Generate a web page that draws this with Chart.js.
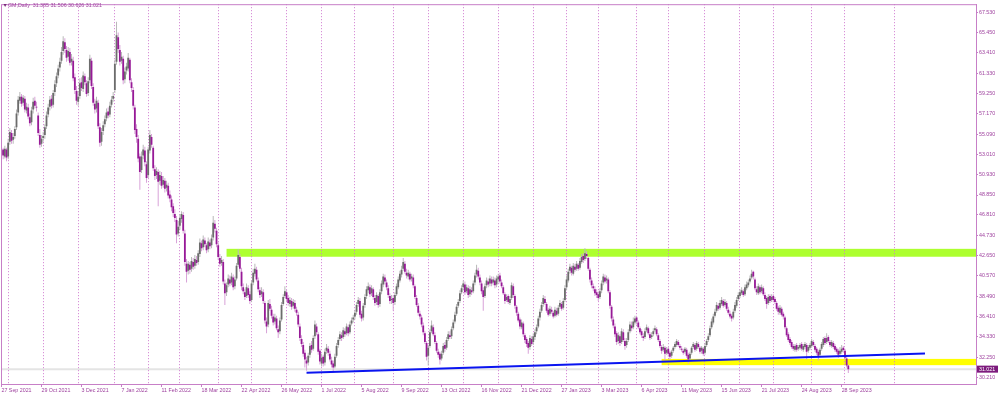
<!DOCTYPE html>
<html>
<head>
<meta charset="utf-8">
<script src="https://cdn.jsdelivr.net/npm/chart.js@4"></script>
<style>
  html, body { margin: 0; padding: 0; background: #fff; }
  canvas { display: block; background: #fff; }
</style>
</head>
<body>
<canvas id="gmChart" width="1000" height="395"></canvas>
<script>
// GM daily, 27 Sep 2021 .. early Oct 2023 (one entry per trading day)
const opens = [
  53.0, 53.5, 52.8, 53.5,
  52.8, 54.3, 55.2, 54.5, 54.9, 55.8, 57.3, 58.5, 58.9, 58.3, 58.7, 57.5, 57.8, 56.8, 56.3, 57.6, 58.5, 57.9, 57.0, 55.0, 54.1,
  54.7, 55.0, 55.9, 57.1, 57.9, 58.7, 58.1, 59.4, 60.3, 61.1, 61.9, 62.6, 63.6, 64.5, 63.7, 63.0, 63.5, 62.5, 62.6, 60.9, 59.5,
  58.4, 59.0, 60.4, 59.7, 61.0, 60.3, 59.3, 60.6, 62.6, 59.9, 58.2, 57.7, 58.3, 55.8, 54.3, 55.4, 56.1, 56.7, 57.4, 57.1, 58.1, 58.7,
  59.6, 62.5, 65.0, 63.7, 62.6, 62.8, 60.7, 61.6, 61.8, 62.7, 60.4, 59.6, 57.8, 55.6, 54.6, 52.8, 51.4, 52.9, 53.4, 52.0,
  50.9, 53.4, 54.8, 53.7, 51.5, 50.9, 51.2, 50.3, 50.8, 49.9, 50.3, 49.6, 49.8, 48.9, 48.4, 47.7, 46.9, 46.3, 44.9,
  45.7, 46.4, 46.8, 44.9, 41.8, 41.1, 41.7, 41.3, 42.0, 41.6, 42.2, 42.0, 42.8, 43.9, 43.5, 44.2, 43.7, 43.3, 44.0, 43.7, 44.5, 45.9, 45.2,
  43.7, 42.4, 41.9, 42.0, 39.8, 38.9, 39.7, 40.2, 39.9, 40.4, 39.5, 40.3, 41.7, 42.5, 41.0, 39.4, 38.9, 38.5, 39.3, 38.7,
  38.1, 39.9, 40.8, 41.2, 40.1, 39.1, 38.7, 38.9, 37.8, 35.9, 35.6, 37.7, 37.1, 36.4, 35.9, 36.2, 35.1, 34.9, 36.1, 37.7, 38.5,
  38.9, 38.3, 37.7, 38.0, 37.5, 37.8, 37.1, 36.6, 35.4, 34.1, 33.5, 32.7, 31.9, 31.7, 32.5, 33.5, 33.1, 34.4, 35.4, 34.6, 32.9,
  31.6, 32.3, 31.7, 32.9, 33.1, 32.6, 31.9, 31.6, 31.3, 32.4, 33.5, 34.1, 34.5, 34.3, 34.9, 34.7, 35.3, 34.8, 35.7, 36.1,
  36.4, 36.9, 37.7, 38.0, 36.7, 36.3, 37.6, 38.5, 39.1, 39.4, 38.8, 39.2, 38.3, 37.9, 38.5, 37.7, 39.0, 39.7, 40.4, 39.9, 39.3, 38.5, 38.1,
  38.3, 37.9, 38.7, 39.4, 40.1, 40.7, 41.3, 41.8, 40.9, 40.5, 40.8, 40.3, 40.4, 39.5, 38.3, 37.5, 36.7, 36.3, 35.5, 34.7, 33.7,
  32.4, 33.4, 34.9, 35.3, 34.5, 33.7, 32.8, 32.6, 32.1, 32.7, 33.5, 33.2, 34.1, 34.5, 34.4, 35.2, 35.9, 36.7, 37.5, 38.0, 38.9,
  39.4, 39.7, 39.0, 39.3, 38.7, 39.1, 39.0, 39.9, 40.7, 41.1, 40.4, 39.8, 39.1, 38.5, 39.6, 40.0, 39.8, 40.2, 39.9, 40.1, 39.7,
  40.2, 40.6, 39.9, 39.4, 38.7, 38.1, 38.5, 37.8, 38.3, 39.5, 38.5, 37.4, 36.7, 36.1, 35.3, 35.7, 34.5, 34.1, 33.7, 33.3, 34.1,
  33.8, 34.3, 34.9, 35.4, 36.3, 37.0, 37.7, 38.2, 37.7, 37.1, 36.7, 37.1, 36.8, 36.5, 37.0, 36.7, 37.4, 37.7, 37.3, 38.1,
  39.4, 40.1, 41.1, 41.4, 40.8, 41.5, 41.3, 41.7, 41.4, 42.0, 42.6, 42.3, 42.8, 42.4, 41.2, 40.1, 39.5, 39.2, 38.9,
  38.7, 38.4, 39.1, 39.9, 40.4, 40.1, 40.2, 38.9, 37.4, 36.1, 35.4, 34.7, 33.9, 34.4, 33.8, 34.8, 33.9, 33.5, 34.0, 34.9, 35.5, 35.3, 35.8,
  36.3, 35.8, 35.2, 34.9, 34.4, 34.3, 35.0, 35.2, 34.6, 34.3, 34.6, 35.0, 35.1, 34.5, 33.9, 33.3, 33.0, 33.2, 32.7,
  33.1, 32.7, 32.4, 32.9, 33.3, 33.5, 33.8, 33.4, 33.1, 32.9, 32.8, 33.0, 32.5, 32.1, 32.7, 33.3, 33.5, 33.1, 33.6, 33.2, 32.9, 33.1,
  32.7, 33.5, 34.0, 34.5, 35.3, 35.8, 36.5, 37.0, 37.5, 37.3, 37.7, 38.0, 37.6, 37.8, 37.1, 36.7, 36.5, 36.3, 37.0, 37.5, 38.2,
  38.5, 38.8, 39.0, 38.7, 39.3, 39.6, 40.0, 40.4, 41.0, 40.2, 39.2, 38.8, 39.4, 39.0, 39.3, 38.6, 38.3, 37.8, 38.5, 38.1,
  38.5, 38.2, 37.8, 37.3, 36.8, 37.2, 36.7, 36.3, 35.2, 34.6, 34.1, 33.8, 33.4, 33.0, 33.5, 33.1, 33.2, 33.6, 33.0, 33.3, 33.5, 32.9, 33.2,
  33.4, 33.8, 33.4, 33.1, 32.8, 32.5, 33.1, 33.5, 34.2, 33.8, 34.3, 33.8, 33.4, 33.7, 33.4, 33.1, 32.9, 32.6, 32.8, 33.2,
  32.9, 32.1, 31.385
];
const highs = [
  53.8, 53.7, 53.9, 53.7,
  54.6, 55.7, 55.5, 55.2, 55.9, 57.6, 59.0, 59.4, 59.2, 59.1, 59.0, 58.3, 58.2, 57.2, 57.9, 58.8, 58.9, 58.4, 57.3, 55.6, 55.0,
  55.3, 56.1, 57.4, 58.2, 59.0, 59.1, 59.6, 60.6, 61.4, 62.2, 62.9, 64.0, 65.1, 64.9, 64.1, 64.0, 63.9, 63.3, 63.0, 61.3, 60.0,
  59.5, 60.8, 60.9, 61.5, 61.3, 60.6, 60.9, 63.2, 62.9, 60.3, 58.7, 58.9, 58.6, 56.2, 55.7, 56.4, 57.0, 57.7, 57.8, 58.4, 59.0, 59.4,
  62.7, 66.6, 65.5, 64.2, 63.5, 63.1, 61.9, 62.4, 63.4, 62.9, 60.8, 59.9, 58.1, 56.1, 55.0, 53.1, 53.3, 54.0, 53.8, 52.3,
  53.8, 55.5, 55.1, 53.9, 51.9, 51.7, 51.5, 51.3, 51.2, 50.8, 50.6, 50.3, 50.1, 49.3, 48.8, 48.0, 47.4, 46.7, 46.2,
  46.9, 47.2, 47.1, 45.3, 42.3, 42.1, 42.0, 42.5, 42.4, 42.7, 42.6, 43.2, 44.4, 44.2, 44.7, 44.5, 43.9, 44.5, 44.3, 44.8, 46.7, 46.3, 45.5,
  44.0, 42.8, 42.6, 42.3, 40.2, 39.9, 40.7, 40.6, 40.9, 40.7, 40.5, 41.9, 43.3, 42.8, 41.4, 39.8, 39.2, 39.8, 39.6, 39.0,
  40.1, 41.3, 41.8, 41.5, 40.4, 39.4, 39.4, 39.2, 38.0, 36.3, 38.1, 38.2, 37.5, 36.7, 36.7, 36.5, 35.5, 36.3, 37.9, 38.7, 39.5,
  39.2, 38.6, 38.4, 38.3, 38.2, 38.1, 37.4, 36.9, 35.7, 34.5, 33.8, 33.0, 32.3, 32.7, 33.7, 33.9, 34.5, 36.0, 35.7, 34.8, 33.1,
  32.6, 32.5, 33.1, 33.6, 33.4, 32.9, 32.3, 31.9, 32.6, 33.7, 34.3, 34.9, 34.8, 35.3, 35.2, 35.7, 35.6, 35.9, 36.3, 36.6,
  37.1, 37.9, 38.4, 38.3, 37.0, 37.8, 38.7, 39.5, 39.9, 39.7, 39.6, 39.4, 38.6, 38.9, 38.7, 39.2, 40.1, 40.8, 40.7, 40.2, 39.6, 38.8, 38.6,
  38.6, 38.9, 39.8, 40.5, 41.1, 41.6, 42.4, 42.1, 41.3, 41.2, 41.0, 40.8, 40.7, 39.7, 38.6, 37.8, 37.0, 36.6, 35.8, 34.9, 33.9,
  33.5, 35.1, 36.0, 35.6, 34.8, 33.9, 33.1, 32.8, 32.9, 33.7, 33.8, 34.3, 34.9, 34.9, 35.4, 36.1, 36.9, 37.7, 38.2, 39.1, 39.6,
  40.1, 40.0, 39.7, 39.6, 39.5, 39.4, 40.1, 40.9, 41.7, 41.4, 40.7, 40.1, 39.4, 39.8, 40.4, 40.3, 40.6, 40.5, 40.5, 40.4, 40.6,
  40.8, 40.9, 40.2, 39.6, 38.9, 38.7, 38.7, 38.5, 39.9, 39.8, 38.7, 37.6, 36.9, 36.3, 36.1, 35.9, 34.7, 34.3, 33.9, 34.5, 34.4,
  34.7, 35.1, 35.6, 36.5, 37.2, 37.9, 38.6, 38.5, 37.9, 37.3, 37.5, 37.4, 37.0, 37.4, 37.3, 37.6, 38.1, 37.9, 38.3, 39.6,
  40.6, 41.3, 41.8, 41.6, 41.9, 41.8, 42.1, 41.9, 42.4, 42.8, 42.9, 43.4, 43.1, 42.5, 41.4, 40.4, 39.8, 39.5, 39.2,
  39.0, 39.3, 40.1, 40.8, 40.7, 40.6, 40.4, 39.1, 37.6, 36.4, 35.7, 34.9, 34.8, 34.6, 35.2, 35.1, 34.2, 34.2, 35.1, 35.9, 35.9, 36.3, 36.5,
  36.5, 36.0, 35.4, 35.1, 34.7, 35.2, 35.6, 35.4, 34.8, 34.8, 35.2, 35.5, 35.3, 34.7, 34.1, 33.5, 33.6, 33.4, 33.3,
  33.3, 32.9, 33.0, 33.4, 33.8, 34.1, 34.0, 33.6, 33.4, 33.1, 33.3, 33.2, 32.7, 32.8, 33.4, 33.8, 33.7, 33.9, 33.8, 33.4, 33.4, 33.3,
  33.7, 34.1, 34.7, 35.5, 36.2, 36.7, 37.2, 37.9, 37.8, 38.1, 38.4, 38.2, 38.2, 38.0, 37.4, 37.0, 36.7, 37.2, 37.9, 38.4, 38.9,
  39.2, 39.4, 39.2, 39.7, 40.0, 40.2, 40.6, 41.2, 41.1, 40.4, 39.5, 39.8, 39.6, 39.7, 39.5, 38.9, 38.5, 38.7, 38.7, 38.7,
  38.7, 38.4, 38.0, 37.5, 37.6, 37.4, 36.9, 36.5, 35.4, 34.8, 34.3, 34.0, 33.6, 33.6, 33.7, 33.5, 33.7, 33.8, 33.6, 33.8, 33.7, 33.5, 33.7,
  34.1, 34.0, 33.6, 33.3, 33.0, 33.2, 33.8, 34.3, 34.4, 34.7, 34.5, 34.0, 34.0, 33.9, 33.6, 33.3, 33.1, 33.3, 33.5, 33.4,
  33.1, 32.3, 31.506
];
const lows = [
  52.6, 52.5, 52.6, 52.3,
  52.5, 54.0, 54.1, 54.1, 54.6, 55.5, 57.0, 58.2, 57.9, 58.0, 57.3, 57.2, 56.6, 55.9, 56.0, 57.2, 57.7, 57.4, 54.9, 53.7, 53.8,
  54.3, 54.6, 55.6, 56.8, 57.5, 57.7, 57.8, 59.0, 59.9, 60.8, 61.5, 62.3, 63.2, 63.4, 62.5, 62.6, 62.1, 62.1, 60.5, 59.2, 58.1,
  58.0, 58.7, 59.5, 59.4, 60.1, 58.9, 59.0, 60.3, 59.7, 58.0, 57.2, 57.3, 55.6, 53.8, 53.9, 55.0, 55.8, 56.4, 56.7, 56.8, 57.8, 58.4,
  59.3, 62.2, 63.4, 62.1, 62.3, 60.2, 60.3, 61.2, 61.5, 60.3, 59.4, 57.6, 55.1, 54.2, 52.2, 49.4, 51.1, 52.5, 51.8, 50.1,
  50.6, 53.1, 53.7, 51.3, 50.4, 50.5, 47.7, 49.9, 49.5, 49.6, 49.1, 49.2, 48.5, 48.1, 47.2, 46.6, 46.1, 43.9, 44.6,
  45.3, 46.0, 44.9, 41.6, 39.9, 40.7, 40.8, 41.0, 41.2, 41.3, 41.6, 41.7, 42.5, 43.1, 43.2, 43.5, 42.9, 43.0, 43.3, 43.4, 44.2, 45.0, 43.5,
  42.2, 41.5, 41.6, 39.7, 37.6, 38.5, 39.4, 39.5, 39.6, 39.1, 39.2, 40.1, 41.5, 41.0, 39.1, 38.7, 38.1, 38.3, 38.3, 37.7,
  37.9, 39.6, 40.5, 40.0, 38.9, 38.3, 38.4, 37.7, 35.7, 34.7, 35.3, 37.0, 36.2, 35.5, 35.6, 35.0, 34.2, 34.6, 35.9, 37.5, 38.3,
  37.9, 37.5, 37.4, 37.1, 37.2, 36.9, 36.5, 35.3, 33.9, 33.3, 32.3, 31.2, 30.85, 31.4, 32.2, 32.7, 32.9, 34.1, 34.5, 32.5, 31.5,
  31.3, 31.3, 31.4, 32.6, 32.4, 31.8, 31.2, 30.7, 31.1, 32.2, 33.2, 33.9, 33.9, 34.1, 34.3, 34.5, 34.4, 34.6, 35.5, 35.8,
  36.1, 36.6, 37.4, 36.3, 35.9, 36.0, 37.3, 38.2, 38.8, 38.4, 38.5, 38.1, 37.5, 37.6, 37.3, 37.4, 38.7, 39.4, 39.7, 39.1, 38.3, 37.7, 37.7,
  37.0, 37.6, 38.5, 39.2, 39.9, 40.4, 41.1, 40.8, 40.3, 40.2, 40.0, 40.0, 39.3, 38.2, 37.4, 36.5, 36.1, 35.3, 34.5, 33.6, 31.9,
  31.4, 33.2, 34.7, 34.4, 33.6, 32.7, 32.2, 31.5, 31.9, 32.5, 32.8, 33.0, 33.9, 34.1, 34.1, 35.0, 35.7, 36.5, 37.3, 37.8, 38.7,
  39.1, 38.6, 38.8, 38.3, 38.4, 38.6, 38.8, 39.6, 40.4, 40.2, 39.6, 38.7, 37.0, 38.3, 39.3, 39.4, 39.5, 39.5, 39.6, 39.3, 39.4,
  39.9, 39.8, 39.3, 38.6, 37.7, 37.9, 37.7, 37.6, 38.1, 38.3, 37.2, 36.5, 35.8, 35.1, 35.1, 34.3, 33.7, 33.3, 32.6, 33.0, 33.4,
  33.5, 34.0, 34.6, 35.2, 36.0, 36.8, 37.4, 37.6, 36.8, 36.4, 36.5, 36.7, 36.2, 36.3, 36.4, 36.5, 37.2, 37.0, 37.1, 37.9,
  39.1, 39.9, 40.8, 40.6, 40.6, 41.0, 41.1, 41.1, 41.2, 41.8, 41.9, 42.1, 42.3, 41.1, 39.9, 39.3, 39.0, 38.5, 38.3,
  38.0, 38.2, 38.8, 39.6, 39.8, 39.8, 38.8, 37.2, 35.9, 35.2, 34.3, 33.5, 33.6, 33.4, 33.6, 33.8, 33.0, 33.2, 33.8, 34.7, 34.9, 35.1, 35.6,
  35.6, 35.1, 34.6, 34.2, 33.9, 34.1, 34.8, 34.5, 34.0, 34.1, 34.4, 34.8, 34.4, 33.8, 33.2, 32.6, 32.8, 31.9, 32.5,
  32.3, 32.0, 32.2, 32.7, 33.1, 33.3, 33.3, 33.0, 32.8, 32.5, 32.6, 32.2, 31.6, 31.9, 32.5, 33.1, 32.8, 32.9, 33.1, 32.6, 32.6, 32.4,
  32.5, 33.3, 33.8, 34.3, 35.1, 35.6, 36.3, 36.8, 37.0, 37.1, 37.5, 37.3, 37.4, 37.0, 36.6, 36.2, 35.9, 36.1, 36.8, 37.3, 38.0,
  38.3, 38.6, 38.4, 38.5, 39.1, 39.4, 39.8, 40.2, 40.2, 39.1, 38.6, 38.6, 38.7, 38.8, 38.5, 38.0, 37.2, 37.6, 37.8, 37.9,
  37.9, 37.7, 37.0, 36.6, 36.6, 36.4, 36.1, 35.1, 34.3, 33.8, 33.5, 33.1, 32.9, 32.8, 32.8, 32.9, 33.0, 32.9, 32.8, 33.1, 32.0, 32.7, 33.0,
  33.2, 33.3, 32.8, 32.5, 31.9, 32.3, 32.9, 33.3, 33.5, 33.6, 33.7, 33.3, 33.2, 33.1, 32.8, 32.6, 32.2, 32.4, 32.6, 32.7,
  32.0, 31.2, 30.626
];
const closes = [
  53.4, 52.9, 53.6, 52.7,
  54.2, 55.3, 54.4, 54.8, 55.6, 57.2, 58.6, 58.9, 58.2, 58.8, 57.6, 57.9, 56.9, 56.2, 57.5, 58.4, 58.0, 57.8, 55.2, 54.0, 54.6,
  54.9, 55.8, 57.0, 57.8, 58.6, 58.0, 59.3, 60.2, 61.0, 61.8, 62.5, 63.5, 64.6, 63.8, 62.9, 63.6, 62.4, 62.8, 60.8, 59.6, 58.5,
  58.9, 60.3, 59.8, 61.1, 60.4, 59.2, 60.5, 62.8, 60.0, 58.3, 57.6, 58.5, 55.9, 54.2, 55.3, 56.0, 56.6, 57.3, 57.0, 58.0, 58.6, 59.0,
  62.3, 65.2, 63.8, 62.5, 63.0, 60.6, 61.5, 62.0, 62.9, 60.6, 59.8, 58.0, 55.5, 54.8, 52.6, 51.2, 52.8, 53.5, 52.2, 50.6,
  53.5, 55.0, 54.0, 51.6, 50.8, 51.3, 50.2, 50.9, 49.8, 50.4, 49.5, 49.9, 48.8, 48.5, 47.6, 47.0, 46.5, 44.8, 45.6,
  46.5, 46.9, 45.2, 42.0, 41.0, 41.8, 41.2, 42.1, 41.5, 42.3, 41.9, 42.9, 44.0, 43.4, 44.3, 43.8, 43.2, 44.1, 43.6, 44.4, 46.0, 45.4, 43.8,
  42.5, 41.8, 42.2, 40.0, 38.8, 39.6, 40.3, 39.8, 40.5, 39.4, 40.2, 41.6, 42.7, 41.3, 39.5, 39.0, 38.4, 39.4, 38.6, 38.0,
  39.8, 40.9, 41.3, 40.2, 39.2, 38.6, 39.0, 38.0, 36.0, 35.4, 37.8, 37.2, 36.5, 35.8, 36.3, 35.2, 34.8, 36.0, 37.6, 38.4, 39.0,
  38.2, 37.8, 38.1, 37.4, 37.9, 37.2, 36.8, 35.6, 34.2, 33.6, 32.6, 32.0, 31.6, 32.4, 33.4, 33.0, 34.2, 35.6, 34.8, 32.8, 31.8,
  32.2, 31.6, 32.8, 33.2, 32.7, 32.0, 31.5, 31.2, 32.3, 33.4, 34.0, 34.6, 34.2, 35.0, 34.6, 35.4, 34.7, 35.6, 36.0, 36.3,
  36.8, 37.6, 38.1, 36.6, 36.2, 37.5, 38.4, 39.2, 39.5, 38.7, 39.3, 38.4, 37.8, 38.6, 37.6, 38.9, 39.8, 40.5, 40.0, 39.4, 38.6, 38.0, 38.2,
  37.8, 38.6, 39.5, 40.2, 40.8, 41.2, 42.0, 41.0, 40.6, 40.9, 40.2, 40.5, 39.6, 38.4, 37.6, 36.8, 36.4, 35.6, 34.8, 33.8, 32.3,
  33.2, 34.8, 35.5, 34.6, 33.8, 32.9, 32.5, 32.0, 32.6, 33.4, 33.1, 34.0, 34.6, 34.3, 35.1, 35.8, 36.6, 37.4, 37.9, 38.8, 39.3,
  39.8, 38.9, 39.4, 38.6, 39.2, 38.9, 39.8, 40.6, 41.2, 40.5, 39.9, 39.0, 38.4, 39.5, 40.1, 39.7, 40.3, 39.8, 40.2, 39.6, 40.3,
  40.5, 40.0, 39.5, 38.8, 38.0, 38.4, 37.9, 38.2, 39.6, 38.6, 37.5, 36.8, 36.0, 35.4, 35.8, 34.6, 34.0, 33.6, 33.2, 34.2, 33.6,
  34.4, 34.8, 35.3, 36.2, 36.9, 37.6, 38.3, 37.8, 37.0, 36.6, 37.2, 36.9, 36.4, 37.1, 36.6, 37.3, 37.8, 37.2, 38.0, 39.3,
  40.2, 41.0, 41.5, 40.9, 41.6, 41.2, 41.8, 41.3, 42.1, 42.5, 42.2, 42.9, 42.6, 41.3, 40.2, 39.6, 39.3, 38.8, 38.6,
  38.3, 39.0, 39.8, 40.5, 40.0, 40.3, 39.0, 37.5, 36.2, 35.5, 34.6, 33.8, 34.5, 33.7, 34.9, 34.0, 33.4, 33.9, 34.8, 35.6, 35.2, 35.9, 36.2,
  35.9, 35.3, 34.8, 34.5, 34.2, 34.9, 35.3, 34.7, 34.2, 34.5, 34.9, 35.2, 34.6, 34.0, 33.4, 32.9, 33.3, 32.6, 33.0,
  32.6, 32.3, 32.8, 33.2, 33.6, 33.9, 33.5, 33.2, 33.0, 32.7, 33.1, 32.4, 32.0, 32.6, 33.2, 33.6, 33.0, 33.7, 33.3, 32.8, 33.2, 32.6,
  33.4, 33.9, 34.4, 35.2, 35.9, 36.4, 36.9, 37.6, 37.2, 37.8, 38.1, 37.5, 37.9, 37.2, 36.8, 36.4, 36.2, 36.9, 37.6, 38.1, 38.6,
  38.9, 39.1, 38.6, 39.4, 39.7, 39.9, 40.3, 40.8, 40.5, 39.3, 38.9, 39.5, 38.9, 39.4, 38.7, 38.2, 37.7, 38.4, 38.0, 38.4,
  38.1, 37.9, 37.2, 36.9, 37.3, 36.6, 36.4, 35.3, 34.5, 34.0, 33.7, 33.3, 33.1, 33.4, 33.0, 33.3, 33.5, 33.1, 33.4, 33.6, 32.8, 33.3, 33.5,
  33.9, 33.5, 33.0, 32.7, 32.4, 33.0, 33.6, 34.1, 33.7, 34.2, 33.9, 33.5, 33.8, 33.3, 33.0, 32.8, 32.5, 32.9, 33.1, 32.97,
  32.2, 31.4, 31.021
];

// time axis labels, one every 24 bars starting at bar 0
const xTickLabels = ['27 Sep 2021', '29 Oct 2021', '3 Dec 2021', '7 Jan 2022', '11 Feb 2022', '18 Mar 2022',
  '22 Apr 2022', '26 May 2022', '1 Jul 2022', '5 Aug 2022', '9 Sep 2022', '13 Oct 2022', '16 Nov 2022',
  '21 Dec 2022', '27 Jan 2023', '3 Mar 2023', '6 Apr 2023', '11 May 2023', '15 Jun 2023', '21 Jul 2023',
  '24 Aug 2023', '28 Sep 2023'];
const labelStep = 24;
// bar index of the first trading day of each month (period separators)
const monthStarts = [4, 25, 46, 68, 88, 107, 130, 150, 171, 192, 212, 235, 256, 277, 298, 319, 339, 358, 381, 400, 422, 443, 463, 486, 506, 536];
const yTickValues = [67.53, 65.45, 63.41, 61.33, 59.25, 57.17, 55.09, 53.01, 50.93, 48.85, 46.81, 44.73,
  42.65, 40.57, 38.49, 36.41, 34.33, 32.25, 30.21];

// drawn objects
const trendLine = [{x: 183, y: 30.65}, {x: 554, y: 32.62}];
const greenZone = {from: 135, low: 42.53, high: 43.34};
const yellowZone = {from: 396, low: 31.43, high: 32.07};
const headerText = 'GM,Daily  31.385 31.506 30.626 31.021';

const UP_BODY = '#6c6c6c', UP_WICK = '#b8b8b8';
const DN_BODY = '#971a97', DN_WICK = '#d8a2d8';
const FRAME = '#c77fc7', TEXT = '#9d3f9d', SEP = '#d07ad0';
const FONT = {family: "'Liberation Sans', 'DejaVu Sans', sans-serif", size: 5.3};

const isUp = closes.map((c, i) => c >= opens[i]);
const wickData = closes.map((c, i) => ({x: i, y: [Math.min(lows[i], opens[i], c), Math.max(highs[i], opens[i], c)]}));
const bodyData = closes.map((c, i) => ({x: i, y: [opens[i], c]}));

const X_MIN = -0.3, X_MAX = 584.6;

const mt4Extras = {
    id: 'mt4Extras',
    beforeDraw(chart) {
        const {ctx, chartArea: a, scales: {x, y}} = chart;
        ctx.save();
        // zones
        [[greenZone, '#adff2f'], [yellowZone, '#ffff00']].forEach(([z, col]) => {
            const x0 = x.getPixelForValue(z.from);
            const y0 = y.getPixelForValue(z.high);
            const y1 = y.getPixelForValue(z.low);
            ctx.fillStyle = col;
            ctx.fillRect(x0, y0, a.right - x0, y1 - y0);
        });
        // bid line
        const by = y.getPixelForValue(closes[closes.length - 1]);
        ctx.strokeStyle = '#e4e4e4';
        ctx.lineWidth = 2;
        ctx.beginPath();
        ctx.moveTo(a.left, by);
        ctx.lineTo(a.right, by);
        ctx.stroke();
        ctx.restore();
    },
    afterDraw(chart) {
        const {ctx, chartArea: a, scales: {y}} = chart;
        ctx.save();
        // frame
        ctx.strokeStyle = FRAME;
        ctx.lineWidth = 1;
        ctx.strokeRect(a.left + 0.5, a.top + 0.5, a.right - a.left, a.bottom - a.top);
        // header
        ctx.font = FONT.size + 'px ' + FONT.family;
        ctx.textBaseline = 'middle';
        ctx.textAlign = 'left';
        ctx.fillStyle = '#7a2a7a';
        ctx.fillText('\u25BC', 2.5, 6);
        ctx.fillStyle = TEXT;
        ctx.fillText(headerText, 8, 6);
        // last price tag
        const last = closes[closes.length - 1];
        const py = y.getPixelForValue(last);
        ctx.fillStyle = '#7d1a7d';
        ctx.fillRect(a.right + 1, py - 3.5, 21, 7);
        ctx.fillStyle = '#ffffff';
        ctx.fillText(last.toFixed(3), a.right + 3, py);
        ctx.restore();
    }
};

new Chart(document.getElementById('gmChart').getContext('2d'), {
    type: 'bar',
    data: {
        datasets: [{
            type: 'line',
            data: trendLine,
            borderColor: '#0a14f0',
            borderWidth: 2,
            pointRadius: 0,
            fill: false
        }, {
            data: bodyData,
            backgroundColor: isUp.map(u => u ? UP_BODY : DN_BODY),
            barThickness: 1.8,
            inflateAmount: 0,
            borderWidth: 0,
            grouped: false
        }, {
            data: wickData,
            backgroundColor: isUp.map(u => u ? UP_WICK : DN_WICK),
            barThickness: 1,
            inflateAmount: 0,
            borderWidth: 0,
            grouped: false
        }]
    },
    plugins: [mt4Extras],
    options: {
        responsive: false,
        animation: false,
        devicePixelRatio: 1,
        layout: { padding: { left: 1, top: 1, right: 0, bottom: 0 } },
        plugins: {
            legend: { display: false },
            tooltip: { enabled: false }
        },
        scales: {
            x: {
                type: 'linear',
                position: 'bottom',
                min: X_MIN,
                max: X_MAX,
                offset: false,
                afterBuildTicks: s => { s.ticks = xTickLabels.map((t, i) => ({value: i * labelStep})); },
                afterFit: s => { s.height = 11; },
                ticks: {
                    autoSkip: false,
                    maxRotation: 0,
                    minRotation: 0,
                    align: 'start',
                    padding: 0,
                    color: TEXT,
                    font: FONT,
                    callback: (v, i) => xTickLabels[i]
                },
                grid: { offset: false, drawOnChartArea: false, tickLength: 3, color: FRAME },
                border: { color: FRAME }
            },
            xg: {
                type: 'linear',
                position: 'bottom',
                min: X_MIN,
                max: X_MAX,
                offset: false,
                afterBuildTicks: s => { s.ticks = monthStarts.map(v => ({value: v})); },
                afterFit: s => { s.height = 0; },
                ticks: { display: false },
                grid: { offset: false, drawTicks: false, color: SEP, lineWidth: 1 },
                border: { display: false, dash: [1, 2] }
            },
            y: {
                type: 'linear',
                position: 'right',
                min: 29.50,
                max: 68.39,
                afterBuildTicks: s => { s.ticks = yTickValues.map(v => ({value: v})); },
                afterFit: s => { s.width = 24; },
                ticks: {
                    autoSkip: false,
                    padding: 1,
                    color: TEXT,
                    font: FONT,
                    callback: v => v.toFixed(3)
                },
                grid: { drawOnChartArea: false, tickLength: 2, color: FRAME },
                border: { color: FRAME }
            }
        }
    }
});
</script>
</body>
</html>
